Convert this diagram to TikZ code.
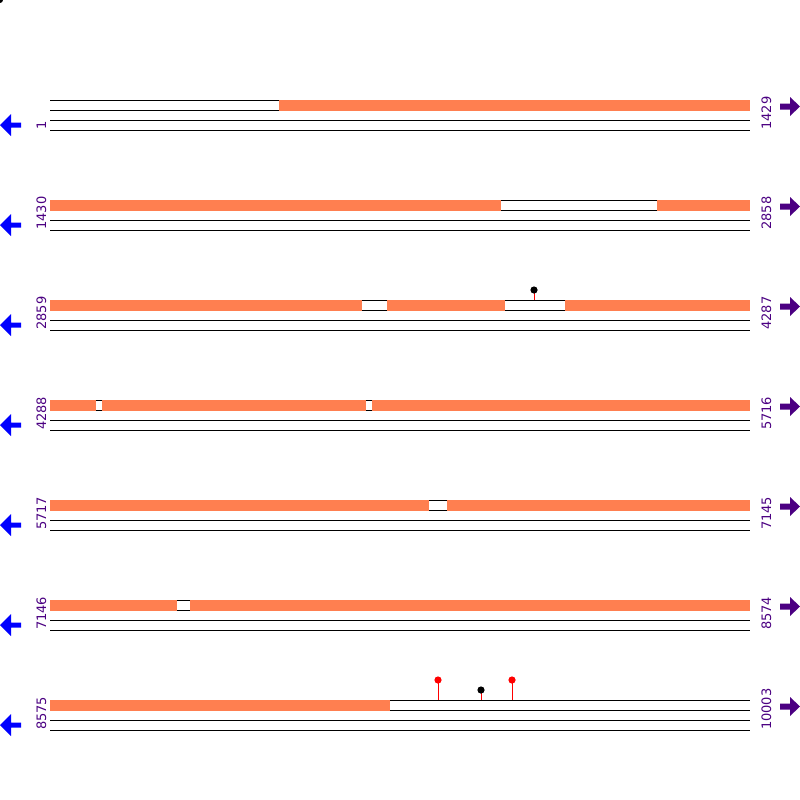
\documentclass[tikz,border=0pt]{standalone}
\usepackage{fontspec}
\setmainfont{DejaVu Sans}
\definecolor{trackorange}{HTML}{FF7F50}
\definecolor{fwdpurple}{HTML}{4B0082}
\newcommand{\lolly}[4]{% x, row top, head height, head colour
    \draw[red, line width=1pt] (#1,#2) -- (#1,#2-#3);
    \fill[#4] (#1,#2-#3) circle (3.6);
}

\begin{document}
\begin{tikzpicture}[x=1pt, y=-1pt,
        seqline/.style={black, line width=1pt},
        seglabel/.style={fwdpurple, font=\fontsize{13}{13}\selectfont, rotate=90, anchor=base west, inner sep=0pt}]
        % --- frame ---
        \fill[white] (0,0) rectangle (800,800);
        \useasboundingbox (0,0) rectangle (800,800);
        \fill[black] (0,0) circle (3);

        % --- rows: number / first / last / orange parts ---
        \foreach \r/\first/\last/\segs in {
            0/1/1429/{279/750},
            1/1430/2858/{50/501, 657/750},
            2/2859/4287/{50/362, 387/505, 565/750},
            3/4288/5716/{50/96, 102/366, 372/750},
            4/5717/7145/{50/429, 447/750},
            5/7146/8574/{50/177, 190/750},
            6/8575/10003/{50/390}} {
            \pgfmathsetmacro{\y}{100+100*\r}
            % lines
            \foreach \dy in {0,10,20,30} {
                \draw[seqline] (50,\y+\dy) -- (750,\y+\dy);
            }
            % orange blocks
            \foreach \s/\e in \segs {
                \fill[trackorange] (\s,\y-0.5) rectangle (\e,\y+10.5);
            }
            % labels
            \node[seglabel] (first\r) at (46,\y+30) {\first};
            \node[seglabel] (last\r) at (771,\y+30) {\last};
            % arrows
            \fill[blue] (0,\y+25) -- (11,\y+14) -- (11,\y+22.5) -- (21,\y+22.5)
                -- (21,\y+27.5) -- (11,\y+27.5) -- (11,\y+36) -- cycle;
            \fill[fwdpurple] (800,\y+6.5) -- (790,\y-3) -- (790,\y+3.5) -- (780,\y+3.5)
                -- (780,\y+9.5) -- (790,\y+9.5) -- (790,\y+16) -- cycle;
        }

        % --- variants ---
        \lolly{534}{300}{10}{black}
        \lolly{438}{700}{20}{red}
        \lolly{481}{700}{10}{black}
        \lolly{512}{700}{20}{red}

    \end{tikzpicture}
\end{document}
